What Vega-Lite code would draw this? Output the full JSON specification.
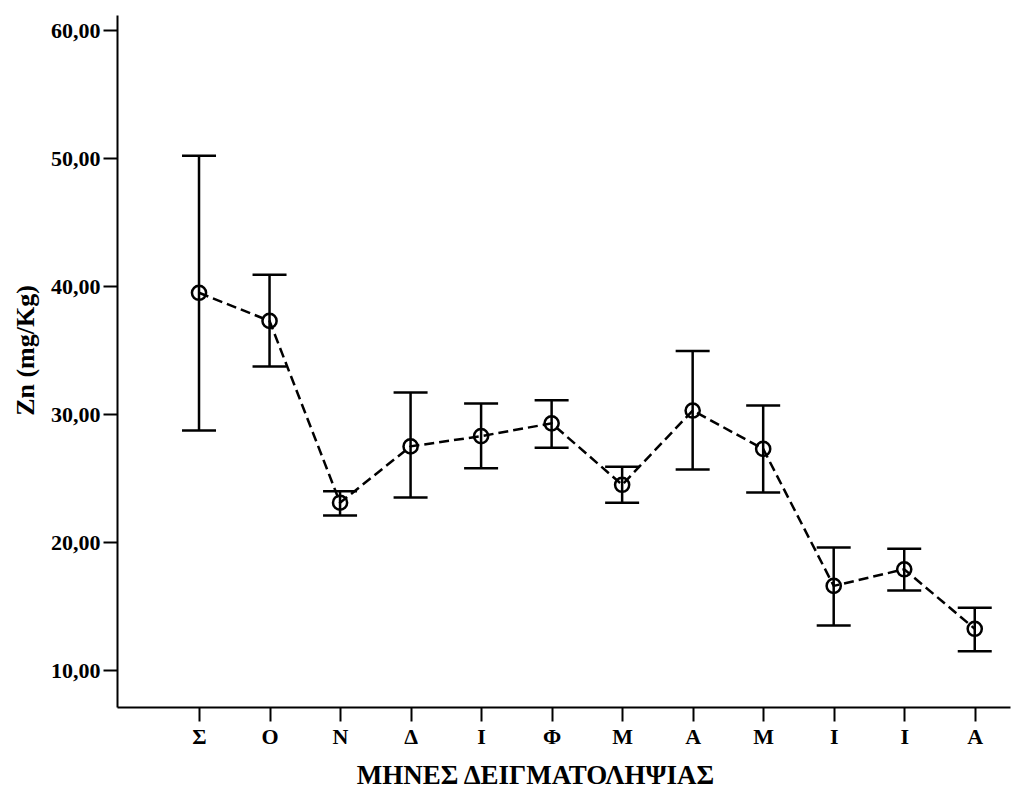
{
  "$schema": "https://vega.github.io/schema/vega-lite/v6.json",
  "width": 893,
  "height": 692,
  "autosize": {"type": "none"},
  "padding": {"left": 117, "top": 15, "right": 6, "bottom": 83},
  "background": "white",
  "config": {
    "view": {"stroke": null},
    "axis": {
      "grid": false,
      "domainColor": "black",
      "domainWidth": 2,
      "tickColor": "black",
      "tickWidth": 2,
      "tickSize": 14,
      "labelFont": "Liberation Serif",
      "labelFontWeight": "bold",
      "labelColor": "black",
      "labelFontSize": 22,
      "titleFont": "Liberation Serif",
      "titleFontWeight": "bold",
      "titleColor": "black",
      "titleFontSize": 26
    }
  },
  "data": {
    "values": [
      {"idx": 0, "month": "Σ", "mean": 39.5, "lo": 28.75, "hi": 50.2},
      {"idx": 1, "month": "Ο", "mean": 37.3, "lo": 33.75, "hi": 40.9},
      {"idx": 2, "month": "Ν", "mean": 23.1, "lo": 22.1, "hi": 24.0},
      {"idx": 3, "month": "Δ", "mean": 27.5, "lo": 23.5, "hi": 31.7},
      {"idx": 4, "month": "Ι", "mean": 28.3, "lo": 25.8, "hi": 30.85},
      {"idx": 5, "month": "Φ", "mean": 29.3, "lo": 27.4, "hi": 31.1},
      {"idx": 6, "month": "Μ", "mean": 24.5, "lo": 23.1, "hi": 25.9},
      {"idx": 7, "month": "Α", "mean": 30.3, "lo": 25.7, "hi": 34.95},
      {"idx": 8, "month": "Μ", "mean": 27.3, "lo": 23.9, "hi": 30.7},
      {"idx": 9, "month": "Ι", "mean": 16.6, "lo": 13.5, "hi": 19.6},
      {"idx": 10, "month": "Ι", "mean": 17.9, "lo": 16.25, "hi": 19.5},
      {"idx": 11, "month": "Α", "mean": 13.25, "lo": 11.5, "hi": 14.9}
    ]
  },
  "encoding": {
    "x": {
      "field": "idx",
      "type": "quantitative",
      "scale": {"domain": [-1.163, 11.5], "nice": false, "zero": false},
      "axis": {
        "values": [0, 1, 2, 3, 4, 5, 6, 7, 8, 9, 10, 11],
        "labelExpr": "['Σ','Ο','Ν','Δ','Ι','Φ','Μ','Α','Μ','Ι','Ι','Α'][datum.value]",
        "labelPadding": 5,
        "title": "ΜΗΝΕΣ ΔΕΙΓΜΑΤΟΛΗΨΙΑΣ",
        "titleFontSize": 27,
        "titleX": 418,
        "titleY": 76,
        "titleAlign": "center",
        "titleBaseline": "alphabetic"
      }
    }
  },
  "layer": [
    {
      "mark": {"type": "rule", "color": "black", "strokeWidth": 2.5},
      "encoding": {
        "y": {
          "field": "lo",
          "type": "quantitative",
          "scale": {"domain": [7.14, 61.2], "nice": false, "zero": false},
          "axis": {
            "values": [10, 20, 30, 40, 50, 60],
            "labelExpr": "replace(format(datum.value, '.2f'), '.', ',')",
            "labelPadding": 3,
            "title": "Zn (mg/Kg)",
            "titlePadding": 12,
            "titleY": 335
          }
        },
        "y2": {"field": "hi"}
      }
    },
    {
      "mark": {"type": "tick", "orient": "horizontal", "color": "black", "thickness": 2.5, "size": 34, "opacity": 1},
      "encoding": {"y": {"field": "lo", "type": "quantitative"}}
    },
    {
      "mark": {"type": "tick", "orient": "horizontal", "color": "black", "thickness": 2.5, "size": 34, "opacity": 1},
      "encoding": {"y": {"field": "hi", "type": "quantitative"}}
    },
    {
      "mark": {"type": "line", "color": "black", "strokeWidth": 2.5, "strokeDash": [10, 5]},
      "encoding": {"y": {"field": "mean", "type": "quantitative"}}
    },
    {
      "mark": {"type": "point", "shape": "circle", "filled": false, "color": "black", "strokeWidth": 2.5, "size": 200, "opacity": 1},
      "encoding": {"y": {"field": "mean", "type": "quantitative"}}
    }
  ]
}
